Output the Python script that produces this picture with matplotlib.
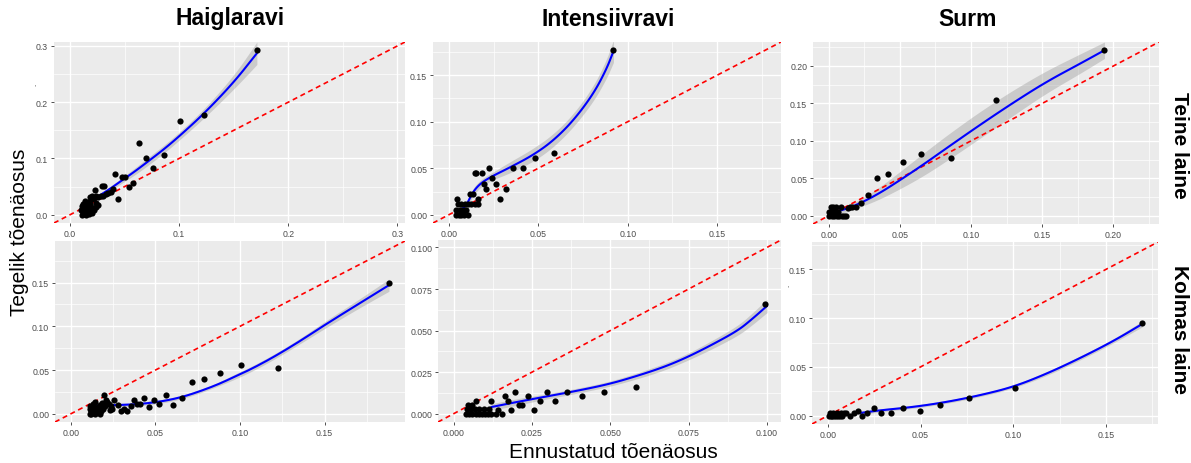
import numpy as np
import matplotlib
matplotlib.use("Agg")
import matplotlib.pyplot as plt
from matplotlib.ticker import MultipleLocator, FormatStrFormatter

plt.rcParams["font.family"] = ["Liberation Sans", "DejaVu Sans"]

# ---------------- data ----------------
col_titles = ["Haiglaravi", "Intensiivravi", "Surm"]
row_titles = ["Teine laine", "Kolmas laine"]
x_label = "Ennustatud tõenäosus"
y_label = "Tegelik tõenäosus"

# Haiglaravi, teine laine
haigla_teine_x = [0.1713, 0.1229, 0.1012, 0.0865, 0.0765, 0.0697, 0.0636, 0.0581, 0.0537, 0.0502,
                  0.0476, 0.0413, 0.0439, 0.0391, 0.0373, 0.0349, 0.0327, 0.0306, 0.0291, 0.0312,
                  0.0281, 0.0260, 0.0226, 0.0183, 0.0205, 0.0236, 0.0159, 0.0183, 0.0240, 0.0200,
                  0.011, 0.012, 0.013, 0.011, 0.012, 0.014, 0.015, 0.016, 0.013, 0.017,
                  0.018, 0.019, 0.014, 0.016, 0.020, 0.021, 0.022, 0.012, 0.015, 0.018,
                  0.024, 0.026, 0.019, 0.022, 0.014, 0.017, 0.010]
haigla_teine_y = [0.2924, 0.1778, 0.1666, 0.1057, 0.0833, 0.1004, 0.1280, 0.0562, 0.0502, 0.0666,
                  0.0666, 0.0724, 0.0278, 0.0450, 0.0402, 0.0385, 0.0372, 0.0342, 0.0508, 0.0508,
                  0.0331, 0.0314, 0.0443, 0.0314, 0.0284, 0.0213, 0.0213, 0.0165, 0.0330, 0.0340,
                  0.000, 0.005, 0.010, 0.015, 0.020, 0.003, 0.008, 0.012, 0.018, 0.001,
                  0.006, 0.010, 0.025, 0.016, 0.004, 0.012, 0.008, 0.002, 0.000, 0.019,
                  0.014, 0.018, 0.028, 0.030, 0.012, 0.022, 0.008]
haigla_teine_fit_x = [0.012, 0.018, 0.0245, 0.0367, 0.049, 0.058, 0.0697, 0.0865, 0.101, 0.123, 0.150, 0.1713]
haigla_teine_fit_y = [0.014, 0.022, 0.031, 0.046, 0.063, 0.075, 0.092, 0.117, 0.141, 0.180, 0.235, 0.287]
haigla_teine_fit_se = [0.006, 0.004, 0.003, 0.004, 0.005, 0.006, 0.007, 0.007, 0.007, 0.008, 0.012, 0.020]

# Intensiivravi, teine laine
intens_teine_x = [0.0920, 0.0587, 0.0482, 0.0413, 0.0360, 0.0223, 0.0144, 0.0152, 0.0184, 0.0240,
                  0.0196, 0.0261, 0.0209, 0.0317, 0.0284, 0.0121, 0.0134, 0.0162, 0.0045, 0.0051,
                  0.0070, 0.0088, 0.0107, 0.0125, 0.0146, 0.0164, 0.0042, 0.0060, 0.0079, 0.0097,
                  0.0040, 0.0055, 0.0070, 0.0085, 0.0106]
intens_teine_y = [0.1768, 0.0668, 0.0612, 0.0500, 0.0500, 0.0500, 0.0447, 0.0447, 0.0447, 0.0390,
                  0.0335, 0.0335, 0.0279, 0.0279, 0.0168, 0.0223, 0.0223, 0.0168, 0.0168, 0.0112,
                  0.0112, 0.0112, 0.0112, 0.0112, 0.0112, 0.0112, 0.0056, 0.0056, 0.0056, 0.0056,
                  0.0000, 0.0000, 0.0000, 0.0000, 0.0000]
intens_teine_fit_x = [0.006, 0.0097, 0.0125, 0.0153, 0.019, 0.0246, 0.034, 0.047, 0.0582, 0.0694, 0.0806, 0.088, 0.092]
intens_teine_fit_y = [0.0043, 0.0096, 0.021, 0.029, 0.0355, 0.0418, 0.0507, 0.064, 0.0793, 0.1007, 0.1293, 0.156, 0.1757]
intens_teine_fit_se = [0.004, 0.004, 0.004, 0.004, 0.004, 0.004, 0.006, 0.007, 0.007, 0.007, 0.008, 0.010, 0.012]

# Surm, teine laine
surm_teine_x = [0.1937, 0.1176, 0.0862, 0.0650, 0.0521, 0.0413, 0.0338, 0.0275, 0.0227, 0.0190,
                0.0167, 0.0146, 0.0134, 0.0016, 0.0030, 0.0052, 0.0087, 0.0005, 0.0025, 0.0045,
                0.0065, 0.0005, 0.0020, 0.0040, 0.0060, 0.0075, 0.0090, 0.0110, 0.0120]
surm_teine_y = [0.2210, 0.1549, 0.0772, 0.0826, 0.0714, 0.0558, 0.0500, 0.0281, 0.0168, 0.0112,
                0.0112, 0.0112, 0.0103, 0.0112, 0.0112, 0.0112, 0.0112, 0.0056, 0.0056, 0.0056,
                0.0056, 0.0000, 0.0000, 0.0000, 0.0000, 0.0000, 0.0000, 0.0000, 0.0000]
surm_teine_fit_x = [0.004, 0.0122, 0.0225, 0.0357, 0.0521, 0.0662, 0.0826, 0.106, 0.1296, 0.153, 0.1765, 0.1937]
surm_teine_fit_y = [0.005, 0.009, 0.017, 0.030, 0.050, 0.068, 0.090, 0.121, 0.151, 0.179, 0.203, 0.221]
surm_teine_fit_se = [0.004, 0.004, 0.005, 0.008, 0.012, 0.015, 0.017, 0.018, 0.017, 0.015, 0.013, 0.011]

# Haiglaravi, kolmas laine
haigla_kolmas_x = [0.1881, 0.1222, 0.1008, 0.0879, 0.0786, 0.0713, 0.0658, 0.0605, 0.0561, 0.0523,
                   0.0489, 0.0459, 0.0432, 0.0408, 0.0389, 0.0371, 0.0353, 0.0334, 0.0315, 0.0295,
                   0.0276, 0.0254, 0.0244, 0.0224, 0.0214, 0.0198, 0.0235,
                   0.0110, 0.0120, 0.0130, 0.0110, 0.0140, 0.0150, 0.0160, 0.0130, 0.0170, 0.0180,
                   0.0190, 0.0170, 0.0120, 0.0160, 0.0140, 0.0200, 0.0215, 0.0230, 0.0185, 0.0210,
                   0.0115, 0.0145]
haigla_kolmas_y = [0.1500, 0.0527, 0.0553, 0.0469, 0.0393, 0.0366, 0.0181, 0.0105, 0.0213, 0.0108,
                   0.0156, 0.0083, 0.0183, 0.0108, 0.0108, 0.0158, 0.0085, 0.0026, 0.0060, 0.0026,
                   0.0100, 0.0152, 0.0050, 0.0107, 0.0137, 0.0213, 0.0090,
                   0.000, 0.003, 0.006, 0.009, 0.000, 0.004, 0.008, 0.011, 0.000, 0.003,
                   0.006, 0.010, 0.000, 0.002, 0.013, 0.009, 0.012, 0.004, 0.012, 0.016,
                   0.005, 0.007]
haigla_kolmas_fit_x = [0.012, 0.018, 0.025, 0.037, 0.047, 0.057, 0.067, 0.077, 0.087, 0.097, 0.107, 0.120, 0.135, 0.150, 0.170, 0.188]
haigla_kolmas_fit_y = [0.0095, 0.0095, 0.0098, 0.0106, 0.0124, 0.0153, 0.0198, 0.0262, 0.0336, 0.0425, 0.0515, 0.0650, 0.0825, 0.1015, 0.1255, 0.1470]
haigla_kolmas_fit_se = [0.004, 0.003, 0.002, 0.002, 0.002, 0.002, 0.002, 0.002, 0.002, 0.003, 0.003, 0.003, 0.003, 0.004, 0.005, 0.007]

# Intensiivravi, kolmas laine
intens_kolmas_x = [0.0995, 0.0583, 0.0480, 0.0410, 0.0362, 0.0325, 0.0297, 0.0275, 0.0256, 0.0237,
                   0.0218, 0.0209, 0.0196, 0.0183, 0.0173, 0.0163, 0.0155, 0.0143, 0.0134, 0.0118,
                   0.0070, 0.004, 0.005, 0.006, 0.007, 0.008, 0.009, 0.010, 0.011, 0.012,
                   0.0042, 0.0055, 0.0068, 0.0082, 0.0098, 0.0112, 0.0045, 0.0058]
intens_kolmas_y = [0.0658, 0.0158, 0.0129, 0.0104, 0.0129, 0.0077, 0.0130, 0.0077, 0.0025, 0.0104,
                   0.0052, 0.0052, 0.0129, 0.0025, 0.0077, 0.0104, 0.0000, 0.0025, 0.0000, 0.0077,
                   0.0077, 0.0, 0.0, 0.0, 0.0, 0.0, 0.0, 0.0, 0.0, 0.0,
                   0.0026, 0.0026, 0.0026, 0.0026, 0.0026, 0.0026, 0.0052, 0.0052]
intens_kolmas_fit_x = [0.012, 0.020, 0.030, 0.040, 0.050, 0.059, 0.067, 0.074, 0.082, 0.0907, 0.095, 0.100]
intens_kolmas_fit_y = [0.004, 0.007, 0.0105, 0.014, 0.018, 0.023, 0.028, 0.0335, 0.041, 0.050, 0.0565, 0.0648]
intens_kolmas_fit_se = [0.002, 0.002, 0.0015, 0.0015, 0.0015, 0.0018, 0.002, 0.002, 0.0025, 0.003, 0.0035, 0.004]

# Surm, kolmas laine
surm_kolmas_x = [0.1695, 0.1010, 0.0763, 0.0604, 0.0496, 0.0406, 0.0343, 0.0288, 0.0247, 0.0211,
                 0.0184, 0.0162, 0.0139, 0.0121, 0.0099, 0.0090,
                 0.0005, 0.0015, 0.0025, 0.0035, 0.0045, 0.0055, 0.0065, 0.0075,
                 0.0010, 0.0030, 0.0050, 0.0070]
surm_kolmas_y = [0.0945, 0.0288, 0.0185, 0.0106, 0.0051, 0.0079, 0.0027, 0.0027, 0.0079, 0.0027,
                 0.0000, 0.0051, 0.0027, 0.0000, 0.0027, 0.0027,
                 0.0, 0.0, 0.0, 0.0, 0.0, 0.0, 0.0, 0.0,
                 0.0027, 0.0027, 0.0027, 0.0027]
surm_kolmas_fit_x = [0.0171, 0.0279, 0.046, 0.064, 0.082, 0.100, 0.118, 0.136, 0.154, 0.1695]
surm_kolmas_fit_y = [0.0027, 0.0055, 0.0089, 0.014, 0.0209, 0.0295, 0.043, 0.059, 0.0765, 0.0940]
surm_kolmas_fit_se = [0.002, 0.0015, 0.0015, 0.0015, 0.0015, 0.0015, 0.002, 0.002, 0.002, 0.003]

# ---------------- layout ----------------
W, H = 1191, 464
fig = plt.figure(figsize=(W / 100, H / 100), dpi=100)
fig.patch.set_facecolor("white")


def px_axes(x0, y0, x1, y1):
    return fig.add_axes([x0 / W, 1 - y1 / H, (x1 - x0) / W, (y1 - y0) / H])


def rounded(xs, ys, n=12):
    """Round the corners of a polyline with quadratic Bezier arcs through segment midpoints."""
    xs, ys = np.asarray(xs, float), np.asarray(ys, float)
    mx, my = (xs[:-1] + xs[1:]) / 2, (ys[:-1] + ys[1:]) / 2
    outx, outy = [xs[0]], [ys[0]]
    t = np.linspace(0, 1, n)[1:]
    for i in range(1, len(xs) - 1):
        ax_, ay_ = mx[i - 1], my[i - 1]
        bx_, by_ = mx[i], my[i]
        cx, cy = xs[i], ys[i]
        outx.extend((1 - t) ** 2 * ax_ + 2 * (1 - t) * t * cx + t ** 2 * bx_)
        outy.extend((1 - t) ** 2 * ay_ + 2 * (1 - t) * t * cy + t ** 2 * by_)
    outx.append(xs[-1])
    outy.append(ys[-1])
    return np.array(outx), np.array(outy)


panels = [
    ((54, 43, 405, 224), (haigla_teine_x, haigla_teine_y, haigla_teine_fit_x, haigla_teine_fit_y, haigla_teine_fit_se), 0.1, "%.1f"),
    ((433, 43, 781, 224), (intens_teine_x, intens_teine_y, intens_teine_fit_x, intens_teine_fit_y, intens_teine_fit_se), 0.05, "%.2f"),
    ((813, 43, 1159, 225), (surm_teine_x, surm_teine_y, surm_teine_fit_x, surm_teine_fit_y, surm_teine_fit_se), 0.05, "%.2f"),
    ((55, 242, 405, 423), (haigla_kolmas_x, haigla_kolmas_y, haigla_kolmas_fit_x, haigla_kolmas_fit_y, haigla_kolmas_fit_se), 0.05, "%.2f"),
    ((438, 241, 781, 423), (intens_kolmas_x, intens_kolmas_y, intens_kolmas_fit_x, intens_kolmas_fit_y, intens_kolmas_fit_se), 0.025, "%.3f"),
    ((812, 243, 1158, 425), (surm_kolmas_x, surm_kolmas_y, surm_kolmas_fit_x, surm_kolmas_fit_y, surm_kolmas_fit_se), 0.05, "%.2f"),
]

for box, (px, py, fx, fy, fse), step, fmt in panels:
    ax = px_axes(*box)
    px, py = np.asarray(px), np.asarray(py)
    fx, fy, fse = np.asarray(fx), np.asarray(fy), np.asarray(fse)
    top = max(px.max(), py.max())
    lim = (-0.05 * top, 1.05 * top)

    ax.set_facecolor("#EBEBEB")
    for s in ax.spines.values():
        s.set_visible(False)
    ax.set_xlim(lim)
    ax.set_ylim(lim)
    for axis in (ax.xaxis, ax.yaxis):
        axis.set_major_locator(MultipleLocator(step))
        axis.set_minor_locator(MultipleLocator(step / 2))
        axis.set_major_formatter(FormatStrFormatter(fmt))
    ax.grid(which="major", color="white", lw=1.0)
    ax.grid(which="minor", color="white", lw=0.5)
    ax.set_axisbelow(True)
    ax.tick_params(which="major", length=2.2, width=0.6, color="#333333",
                   labelsize=6.3, labelcolor="#4D4D4D", pad=2)
    ax.tick_params(which="minor", length=0)

    sx, sy = rounded(fx, fy)
    _, lo = rounded(fx, fy - fse)
    _, hi = rounded(fx, fy + fse)
    ax.fill_between(sx, lo, hi, color="#999999", alpha=0.4, lw=0, zorder=2)
    ax.axline((0, 0), slope=1, color="red", lw=1.2, dashes=(3, 2.2), zorder=3)
    ax.plot(sx, sy, color="blue", lw=1.5, zorder=3, solid_capstyle="round")
    ax.scatter(px, py, s=20, color="black", lw=0, zorder=4)

# column and row headers
title_x = [230, 608, 968]
for t, x in zip(col_titles, title_x):
    fig.text(x / W, 1 - 19 / H, t, ha="center", va="center", fontsize=16.5, fontweight="bold")
for t, y in zip(row_titles, [145, 330]):
    fig.text(1179 / W, 1 - y / H, t, ha="center", va="center", rotation=270,
             fontsize=15, fontweight="bold")

fig.text(613 / W, 1 - 453 / H, x_label, ha="center", va="center", fontsize=15)
fig.text(20 / W, 1 - 232 / H, y_label, ha="center", va="center", rotation=90, fontsize=15)

# small marks left over at the panel edges
fig.text(35 / W, 1 - 88 / H, "'", ha="center", va="center", fontsize=5, color="#4D4D4D")
fig.text(788 / W, 1 - 289 / H, "'", ha="center", va="center", fontsize=5, color="#4D4D4D")

fig.savefig("out.png", dpi=100, facecolor="white")
